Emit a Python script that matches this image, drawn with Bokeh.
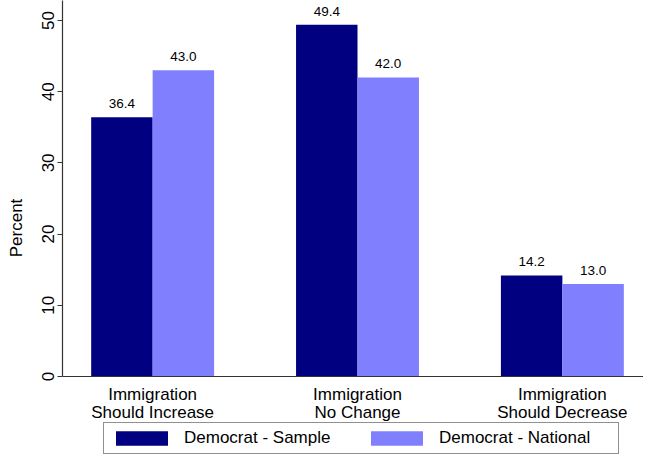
from bokeh.plotting import figure
from bokeh.models import ColumnDataSource, Range1d, FixedTicker, Legend, LegendItem, LabelSet
from bokeh.core.properties import value
from bokeh.transform import dodge
from bokeh.embed import file_html
from bokeh.resources import INLINE

categories = ["Immigration\nShould Increase", "Immigration\nNo Change", "Immigration\nShould Decrease"]
sample = [36.4, 49.4, 14.2]
national = [43.0, 42.0, 13.0]
series_names = ["Democrat - Sample", "Democrat - National"]
y_ticks = [0, 10, 20, 30, 40, 50]

FONT = "Liberation Sans"
DARK = "#000080"
LIGHT = "#8080FF"

xs = list(range(1, len(categories) + 1))
src = ColumnDataSource(dict(
    x=xs,
    sample=sample,
    national=national,
    sample_lbl=["%.1f" % v for v in sample],
    national_lbl=["%.1f" % v for v in national],
))

# frame covers the full canvas height; the x axis is fixed at y=0
p = figure(frame_width=581, frame_height=455, output_backend="svg", toolbar_location=None,
           x_range=Range1d(0.56, 3.396), y_range=Range1d(-11.1, 52.81),
           min_border_left=62, min_border_right=0, min_border_top=0, min_border_bottom=0)

r1 = p.vbar(x=dodge("x", -0.15), top="sample", width=0.3, source=src,
            fill_color=DARK, line_color=None)
r2 = p.vbar(x=dodge("x", 0.15), top="national", width=0.3, source=src,
            fill_color=LIGHT, line_color=None)

for col, lbl, off in [("sample", "sample_lbl", -0.15), ("national", "national_lbl", 0.15)]:
    ls = LabelSet(x=dodge("x", off), y=col, text=lbl, source=src,
                  text_align="center", text_baseline="alphabetic", y_offset=9,
                  text_font=value(FONT), text_font_size=value("13.5px"), text_color="black")
    p.add_layout(ls)

p.xgrid.visible = False
p.ygrid.visible = False
p.outline_line_color = None

p.xaxis.fixed_location = 0
p.xaxis.ticker = FixedTicker(ticks=xs)
p.xaxis.major_label_overrides = {x: c for x, c in zip(xs, categories)}
p.xaxis.major_tick_line_color = None
p.xaxis.minor_tick_line_color = None
p.xaxis.major_label_text_font = FONT
p.xaxis.major_label_text_font_size = "17px"
p.xaxis.major_label_text_color = "black"
p.xaxis.major_label_text_line_height = 0.92
p.xaxis.major_label_standoff = 3
p.xaxis.axis_line_color = "#333333"
p.xaxis.axis_line_width = 1.2

p.yaxis.bounds = (0, 52.81)
p.yaxis.ticker = FixedTicker(ticks=y_ticks)
p.yaxis.minor_tick_line_color = None
p.yaxis.major_tick_in = 0
p.yaxis.major_tick_out = 5
p.yaxis.major_tick_line_color = "#333333"
p.yaxis.major_label_orientation = "vertical"
p.yaxis.major_label_text_font = FONT
p.yaxis.major_label_text_font_size = "17px"
p.yaxis.major_label_text_color = "black"
p.yaxis.major_label_standoff = 3
p.yaxis.axis_label = "Percent"
p.yaxis.axis_label_text_font = FONT
p.yaxis.axis_label_text_font_size = "17px"
p.yaxis.axis_label_text_font_style = "normal"
p.yaxis.axis_label_text_color = "black"
p.yaxis.axis_label_standoff = 14
p.yaxis.axis_line_color = "#333333"
p.yaxis.axis_line_width = 1.2

legend = Legend(items=[LegendItem(label=series_names[0], renderers=[r1]),
                       LegendItem(label=series_names[1], renderers=[r2])],
                orientation="horizontal", location=(41, 1),
                glyph_width=65, glyph_height=18, label_standoff=10, spacing=6,
                label_width=174, label_height=18, padding=5, margin=0,
                label_text_font=FONT, label_text_font_size="17px", label_text_color="black",
                border_line_color="#222222", border_line_width=1.2,
                background_fill_alpha=1.0)
p.add_layout(legend, "center")

open("out.html", "w").write(file_html(p, INLINE))
